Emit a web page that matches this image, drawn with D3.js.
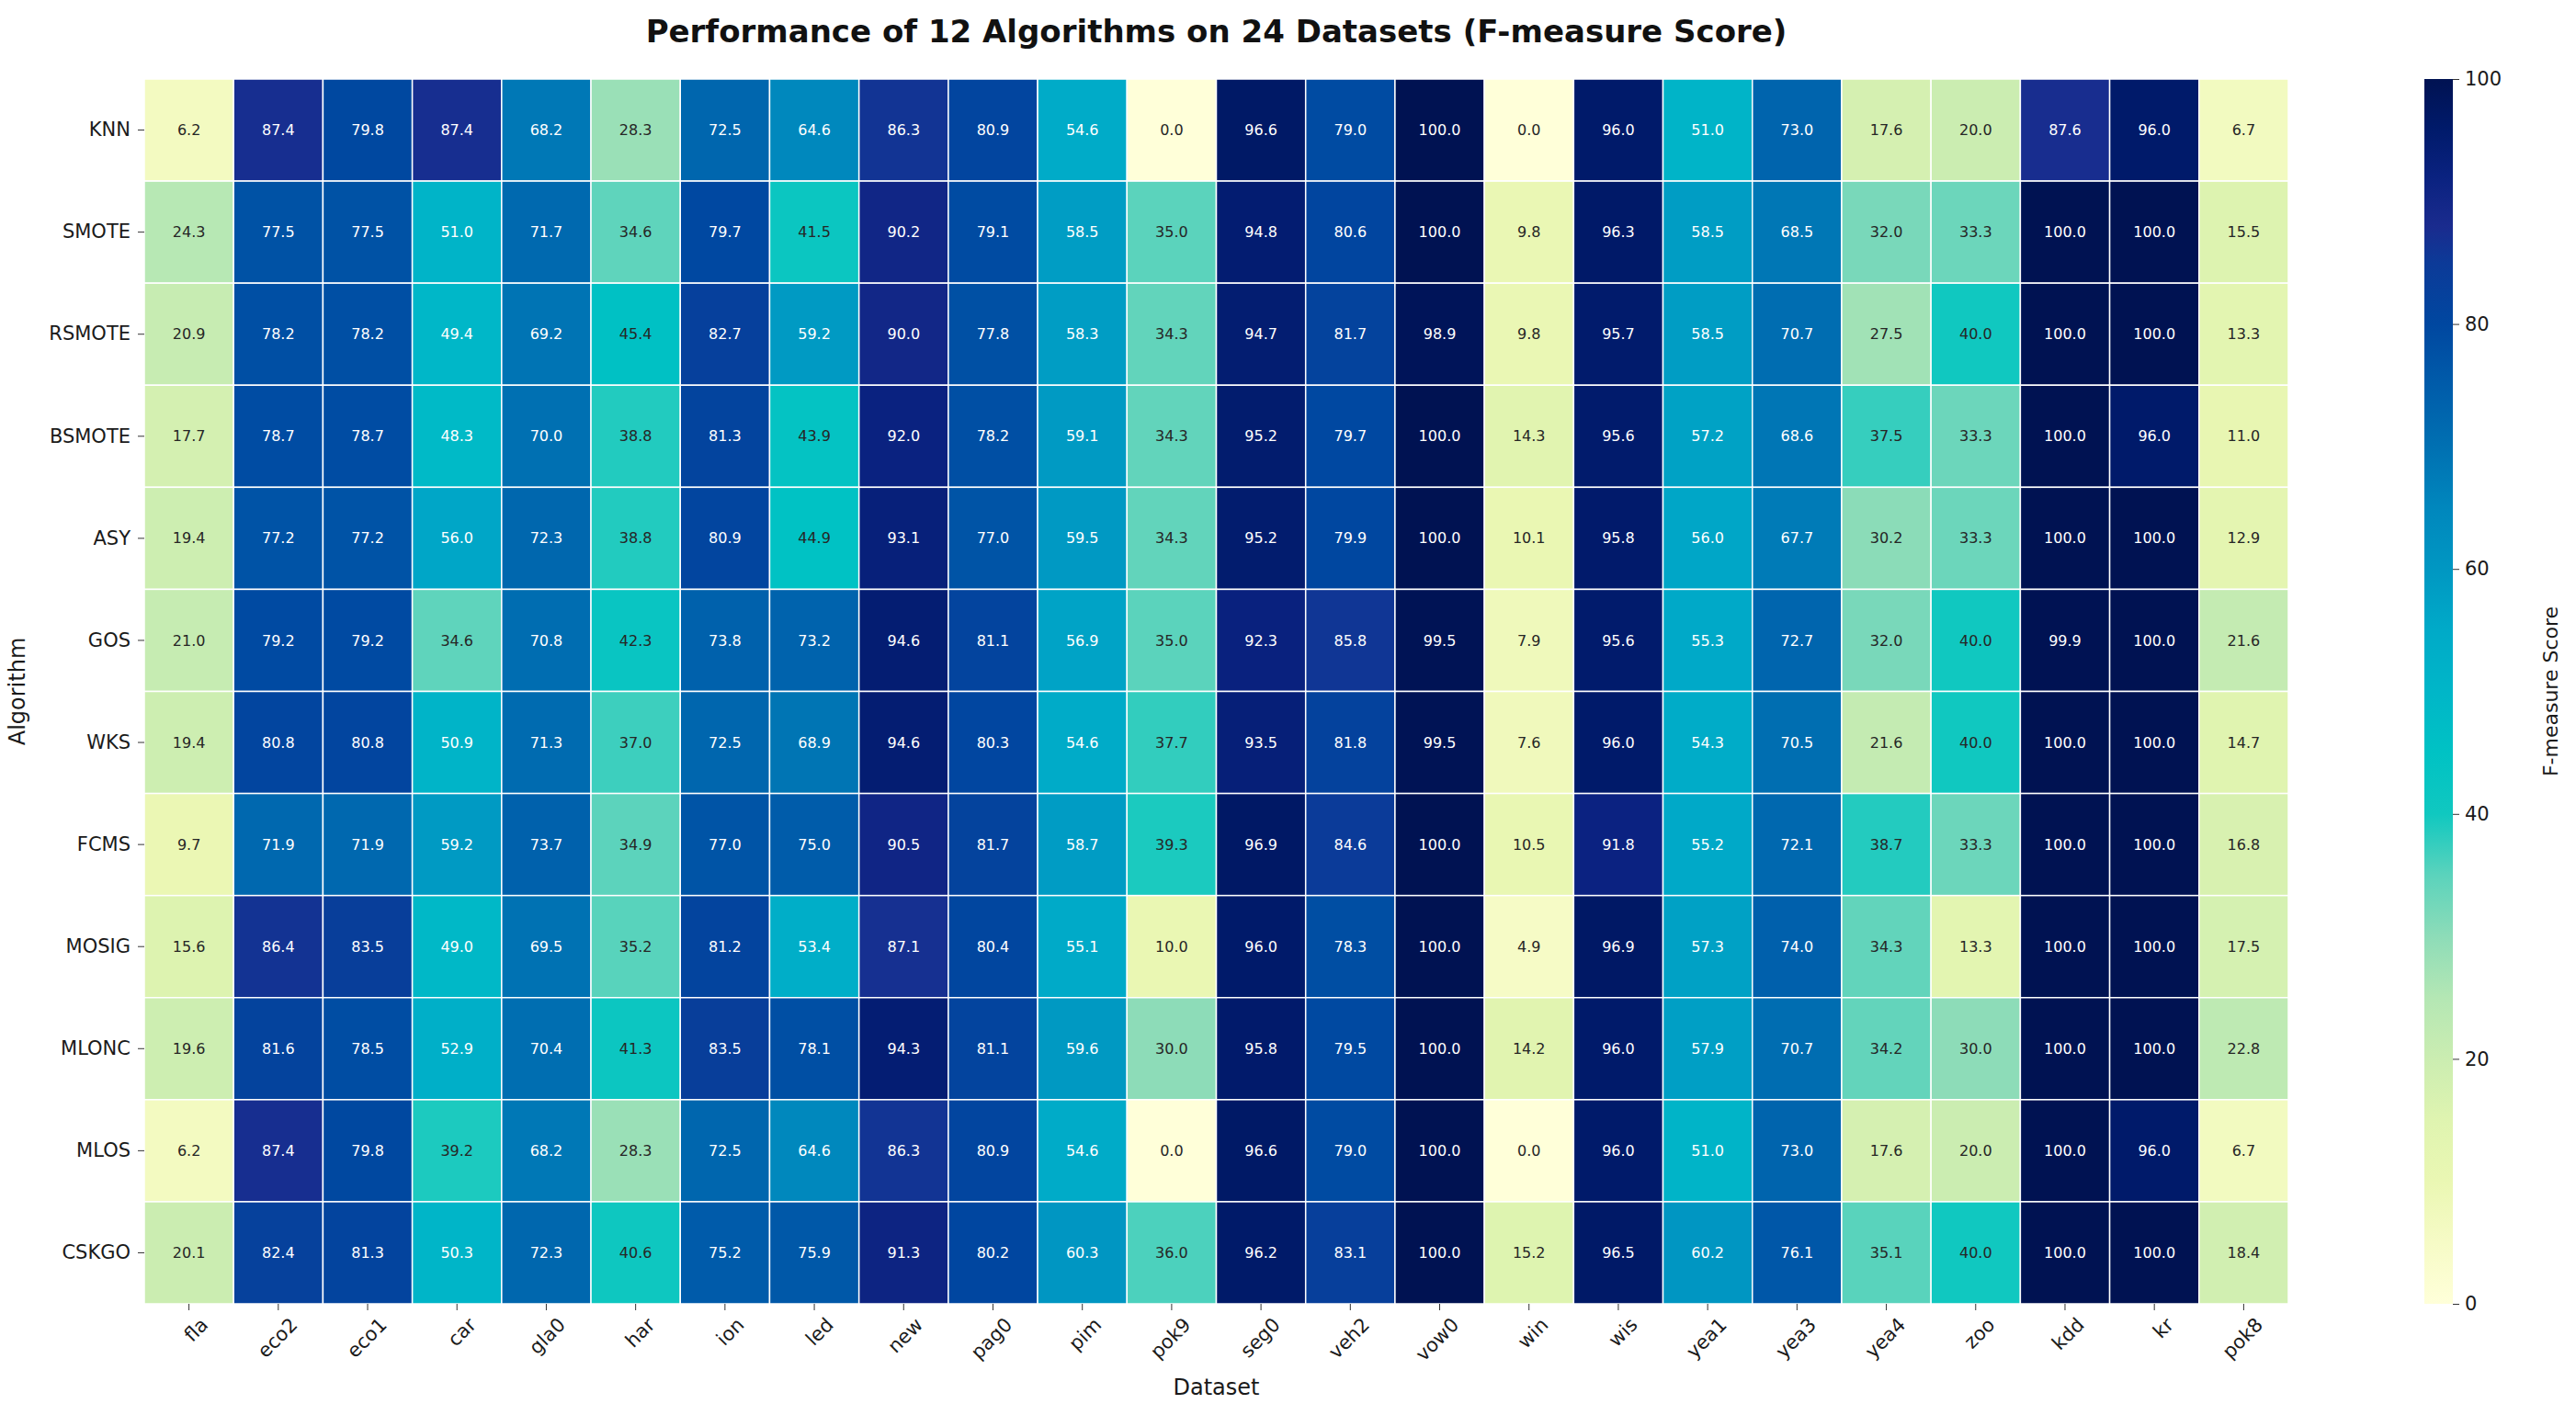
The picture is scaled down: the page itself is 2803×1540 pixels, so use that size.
<!DOCTYPE html>
<html>
<head>
<meta charset="utf-8">
<script src="https://cdn.jsdelivr.net/npm/d3@7"></script>
<style>
    body { margin: 0; background: #ffffff; }
    text { font-family: "DejaVu Sans", sans-serif; }
</style>
</head>
<body>
<div id="chart"></div>
<script>
// algorithms (rows) and datasets (columns)
var algorithms = ["KNN", "SMOTE", "RSMOTE", "BSMOTE", "ASY", "GOS", "WKS", "FCMS", "MOSIG", "MLONC", "MLOS", "CSKGO"];
var datasets = ["fla", "eco2", "eco1", "car", "gla0", "har", "ion", "led", "new", "pag0", "pim", "pok9",
    "seg0", "veh2", "vow0", "win", "wis", "yea1", "yea3", "yea4", "zoo", "kdd", "kr", "pok8"];

// F-measure per algorithm, one value per dataset
var knn    = [6.2, 87.4, 79.8, 87.4, 68.2, 28.3, 72.5, 64.6, 86.3, 80.9, 54.6, 0.0, 96.6, 79.0, 100.0, 0.0, 96.0, 51.0, 73.0, 17.6, 20.0, 87.6, 96.0, 6.7];
var smote  = [24.3, 77.5, 77.5, 51.0, 71.7, 34.6, 79.7, 41.5, 90.2, 79.1, 58.5, 35.0, 94.8, 80.6, 100.0, 9.8, 96.3, 58.5, 68.5, 32.0, 33.3, 100.0, 100.0, 15.5];
var rsmote = [20.9, 78.2, 78.2, 49.4, 69.2, 45.4, 82.7, 59.2, 90.0, 77.8, 58.3, 34.3, 94.7, 81.7, 98.9, 9.8, 95.7, 58.5, 70.7, 27.5, 40.0, 100.0, 100.0, 13.3];
var bsmote = [17.7, 78.7, 78.7, 48.3, 70.0, 38.8, 81.3, 43.9, 92.0, 78.2, 59.1, 34.3, 95.2, 79.7, 100.0, 14.3, 95.6, 57.2, 68.6, 37.5, 33.3, 100.0, 96.0, 11.0];
var asy    = [19.4, 77.2, 77.2, 56.0, 72.3, 38.8, 80.9, 44.9, 93.1, 77.0, 59.5, 34.3, 95.2, 79.9, 100.0, 10.1, 95.8, 56.0, 67.7, 30.2, 33.3, 100.0, 100.0, 12.9];
var gos    = [21.0, 79.2, 79.2, 34.6, 70.8, 42.3, 73.8, 73.2, 94.6, 81.1, 56.9, 35.0, 92.3, 85.8, 99.5, 7.9, 95.6, 55.3, 72.7, 32.0, 40.0, 99.9, 100.0, 21.6];
var wks    = [19.4, 80.8, 80.8, 50.9, 71.3, 37.0, 72.5, 68.9, 94.6, 80.3, 54.6, 37.7, 93.5, 81.8, 99.5, 7.6, 96.0, 54.3, 70.5, 21.6, 40.0, 100.0, 100.0, 14.7];
var fcms   = [9.7, 71.9, 71.9, 59.2, 73.7, 34.9, 77.0, 75.0, 90.5, 81.7, 58.7, 39.3, 96.9, 84.6, 100.0, 10.5, 91.8, 55.2, 72.1, 38.7, 33.3, 100.0, 100.0, 16.8];
var mosig  = [15.6, 86.4, 83.5, 49.0, 69.5, 35.2, 81.2, 53.4, 87.1, 80.4, 55.1, 10.0, 96.0, 78.3, 100.0, 4.9, 96.9, 57.3, 74.0, 34.3, 13.3, 100.0, 100.0, 17.5];
var mlonc  = [19.6, 81.6, 78.5, 52.9, 70.4, 41.3, 83.5, 78.1, 94.3, 81.1, 59.6, 30.0, 95.8, 79.5, 100.0, 14.2, 96.0, 57.9, 70.7, 34.2, 30.0, 100.0, 100.0, 22.8];
var mlos   = [6.2, 87.4, 79.8, 39.2, 68.2, 28.3, 72.5, 64.6, 86.3, 80.9, 54.6, 0.0, 96.6, 79.0, 100.0, 0.0, 96.0, 51.0, 73.0, 17.6, 20.0, 100.0, 96.0, 6.7];
var cskgo  = [20.1, 82.4, 81.3, 50.3, 72.3, 40.6, 75.2, 75.9, 91.3, 80.2, 60.3, 36.0, 96.2, 83.1, 100.0, 15.2, 96.5, 60.2, 76.1, 35.1, 40.0, 100.0, 100.0, 18.4];
var scores = [knn, smote, rsmote, bsmote, asy, gos, wks, fcms, mosig, mlonc, mlos, cskgo];

var colorbarTicks = [0, 20, 40, 60, 80, 100];

// colour ramp (yellow - green - blue)
var rampValues = [0, 5, 10, 15, 20, 25, 30, 35, 40, 45, 50, 55, 60, 65, 70, 75, 80, 85, 88, 92, 96, 100];
var rampColors = ["#ffffd9", "#f6fbc6", "#eaf7b3", "#dff4b0", "#cbedb1", "#b4e7b4", "#8ddcb8", "#5bd3bc",
    "#10c8c0", "#00c2c4", "#00b6c8", "#00aac8", "#0097c2", "#0087bd", "#0070b2", "#005caa", "#0047a0",
    "#0c3a98", "#1a2b8e", "#0a2280", "#001a6a", "#001252"];

// flatten to cells
var cells = [];
scores.forEach(function (row, i) {
    row.forEach(function (v, j) {
        cells.push({ algo: algorithms[i], ds: datasets[j], value: v });
    });
});

var W = 2803, H = 1540;
var margin = { top: 86, right: 313, bottom: 121, left: 157 };
var width = W - margin.left - margin.right;
var height = H - margin.top - margin.bottom;

var svg = d3.select("#chart").append("svg")
    .attr("width", W)
    .attr("height", H);

var g = svg.append("g")
    .attr("transform", "translate(" + margin.left + "," + margin.top + ")");

var x = d3.scaleBand().domain(datasets).range([0, width]);
var y = d3.scaleBand().domain(algorithms).range([0, height]);
var color = d3.scaleLinear().domain(rampValues).range(rampColors).clamp(true);

// luminance test for annotation colour (like seaborn)
function textColor(c) {
    var rgb = d3.rgb(c);
    var ch = [rgb.r, rgb.g, rgb.b].map(function (v) {
        v = v / 255;
        return v <= 0.03928 ? v / 12.92 : Math.pow((v + 0.055) / 1.055, 2.4);
    });
    var lum = 0.2126 * ch[0] + 0.7152 * ch[1] + 0.0722 * ch[2];
    return lum > 0.408 ? "#262626" : "#ffffff";
}

// cells
g.selectAll(".cell")
    .data(cells)
    .enter().append("rect")
    .attr("class", "cell")
    .attr("x", function (d) { return x(d.ds); })
    .attr("y", function (d) { return y(d.algo); })
    .attr("width", x.bandwidth())
    .attr("height", y.bandwidth())
    .attr("fill", function (d) { return color(d.value); })
    .attr("stroke", "#ffffff")
    .attr("stroke-width", 1.5);

// annotations
g.selectAll(".annot")
    .data(cells)
    .enter().append("text")
    .attr("class", "annot")
    .attr("x", function (d) { return x(d.ds) + x.bandwidth() / 2; })
    .attr("y", function (d) { return y(d.algo) + y.bandwidth() / 2; })
    .attr("dy", "0.35em")
    .attr("text-anchor", "middle")
    .style("font-size", "16px")
    .attr("fill", function (d) { return textColor(color(d.value)); })
    .text(function (d) { return d.value.toFixed(1); });

// axes
var yAxis = g.append("g")
    .call(d3.axisLeft(y).tickSize(7).tickPadding(8));
var xAxis = g.append("g")
    .attr("transform", "translate(0," + height + ")")
    .call(d3.axisBottom(x).tickSize(7).tickPadding(6));

[xAxis, yAxis].forEach(function (a) {
    a.select(".domain").remove();
    a.selectAll(".tick line").attr("stroke", "#333333");
    a.selectAll(".tick text")
        .attr("fill", "#1a1a1a")
        .style("font-size", "21px")
        .style("font-family", "DejaVu Sans, sans-serif");
});

xAxis.selectAll(".tick text")
    .attr("text-anchor", "end")
    .attr("dy", "0.6em")
    .attr("transform", "translate(4,6) rotate(-45)");

// axis titles
g.append("text")
    .attr("x", width / 2)
    .attr("y", height + 99)
    .attr("text-anchor", "middle")
    .style("font-size", "24px")
    .attr("fill", "#1a1a1a")
    .text("Dataset");

g.append("text")
    .attr("transform", "rotate(-90)")
    .attr("x", -height / 2)
    .attr("y", -130)
    .attr("text-anchor", "middle")
    .style("font-size", "24px")
    .attr("fill", "#1a1a1a")
    .text("Algorithm");

// title
svg.append("text")
    .attr("x", margin.left + width / 2)
    .attr("y", 46)
    .attr("text-anchor", "middle")
    .style("font-size", "34px")
    .style("font-weight", "bold")
    .attr("fill", "#111111")
    .text("Performance of 12 Algorithms on 24 Datasets (F-measure Score)");

// colorbar
var cbX = 2638, cbW = 31;
var cScale = d3.scaleLinear().domain([0, 100]).range([height, 0]);

var grad = svg.append("defs").append("linearGradient")
    .attr("id", "cbGrad")
    .attr("x1", "0").attr("y1", "1")
    .attr("x2", "0").attr("y2", "0");
grad.selectAll("stop")
    .data(rampValues)
    .enter().append("stop")
    .attr("offset", function (d) { return d / 100; })
    .attr("stop-color", function (d) { return color(d); });

var cb = svg.append("g")
    .attr("transform", "translate(" + cbX + "," + margin.top + ")");
cb.append("rect")
    .attr("width", cbW)
    .attr("height", height)
    .attr("fill", "url(#cbGrad)");

var cbAxis = cb.append("g")
    .attr("transform", "translate(" + cbW + ",0)")
    .call(d3.axisRight(cScale).tickValues(colorbarTicks).tickSize(7).tickPadding(6));
cbAxis.select(".domain").remove();
cbAxis.selectAll(".tick line").attr("stroke", "#333333");
cbAxis.selectAll(".tick text")
    .attr("fill", "#1a1a1a")
    .style("font-size", "21px")
    .style("font-family", "DejaVu Sans, sans-serif");

cb.append("text")
    .attr("transform", "rotate(-90)")
    .attr("x", -height / 2)
    .attr("y", 145)
    .attr("text-anchor", "middle")
    .style("font-size", "22px")
    .attr("fill", "#1a1a1a")
    .text("F-measure Score");
</script>
</body>
</html>
